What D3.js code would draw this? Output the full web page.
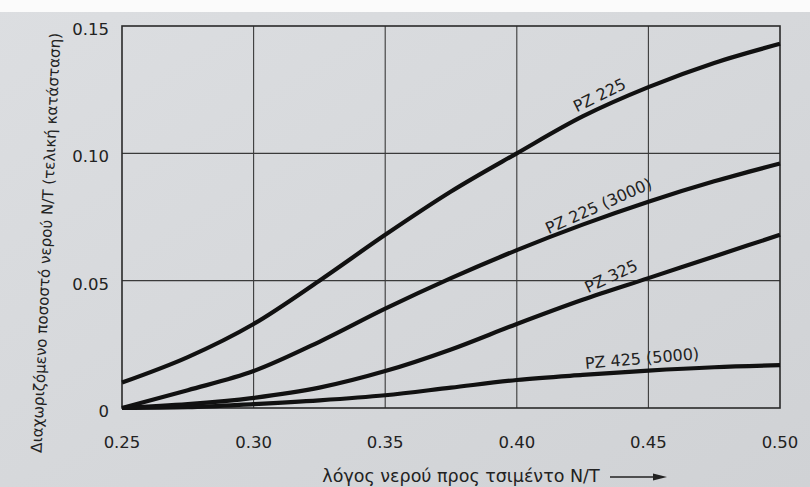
<!DOCTYPE html>
<html>
<head>
<meta charset="utf-8">
<script src="https://cdn.jsdelivr.net/npm/d3@7"></script>
<style>
  html, body { margin: 0; padding: 0; background: #d8dadd; }
  svg { display: block; }
  text { font-family: "DejaVu Sans", "Liberation Sans", sans-serif; fill: #222; }
</style>
</head>
<body>
<svg id="chart" width="810" height="487"></svg>
<script>
// Water/cement ratio (x) and bleeding water fraction N/T (y) per cement type
const waterCementRatio = [0.25, 0.275, 0.30, 0.325, 0.35, 0.375, 0.40, 0.425, 0.45, 0.475, 0.50];
const pz225      = [0.010, 0.020, 0.033, 0.050, 0.068, 0.085, 0.100, 0.1145, 0.126, 0.1355, 0.143];
const pz225_3000 = [0.000, 0.007, 0.0145, 0.026, 0.039, 0.051, 0.062, 0.072, 0.081, 0.089, 0.096];
const pz325      = [0.000, 0.0015, 0.004, 0.008, 0.0145, 0.023, 0.033, 0.0425, 0.051, 0.0595, 0.068];
const pz425_5000 = [0.000, 0.0003, 0.0015, 0.003, 0.005, 0.008, 0.011, 0.013, 0.0147, 0.016, 0.0168];
const seriesNames = ["PZ 225", "PZ 225 (3000)", "PZ 325", "PZ 425 (5000)"];

const xTicks = [0.25, 0.30, 0.35, 0.40, 0.45, 0.50];
const xTickLabels = ["0.25", "0.30", "0.35", "0.40", "0.45", "0.50"];
const yTicks = [0, 0.05, 0.10, 0.15];
const yTickLabels = ["0", "0.05", "0.10", "0.15"];

const yTitle = "Διαχωριζόμενο ποσοστό νερού N/T (τελική κατάσταση)";
const xTitle = "λόγος νερού προς τσιμέντο N/T";

// curve label placement: position along x, text angle, distance above the curve
const labelStyle = [
  { at: 0.4335, angle: -26, gap: 7 },
  { at: 0.433,  angle: -24, gap: 7 },
  { at: 0.438,  angle: -25, gap: 8 },
  { at: 0.448,  angle: -5,  gap: 7 }
];

const svg = d3.select("#chart");
const W = 810, H = 487;

// paper background
const defs = svg.append("defs");
const grad = defs.append("linearGradient").attr("id", "paper")
  .attr("x1", 0).attr("y1", 0).attr("x2", 1).attr("y2", 1);
grad.append("stop").attr("offset", 0).attr("stop-color", "#dcdee1");
grad.append("stop").attr("offset", 1).attr("stop-color", "#d0d2d5");
svg.append("rect").attr("width", W).attr("height", H).attr("fill", "url(#paper)");
svg.append("rect").attr("width", W).attr("height", 12).attr("fill", "#fbfbfb");

const x = d3.scaleLinear().domain([0.25, 0.50]).range([122, 780]);
const y = d3.scaleLinear().domain([0, 0.15]).range([408, 26]);

// grid
const grid = svg.append("g").attr("stroke", "#3a3a3a").attr("stroke-width", 1.1);
grid.selectAll("line.v").data(xTicks.slice(1, -1)).join("line")
  .attr("x1", d => x(d)).attr("x2", d => x(d))
  .attr("y1", y(0.15)).attr("y2", y(0));
grid.selectAll("line.h").data(yTicks.slice(1, -1)).join("line")
  .attr("class", "h")
  .attr("x1", x(0.25)).attr("x2", x(0.50))
  .attr("y1", d => y(d)).attr("y2", d => y(d));
svg.append("rect")
  .attr("x", x(0.25)).attr("y", y(0.15))
  .attr("width", x(0.50) - x(0.25)).attr("height", y(0) - y(0.15))
  .attr("fill", "none").attr("stroke", "#2a2a2a").attr("stroke-width", 1.6);

// tick labels
svg.append("g").selectAll("text").data(xTicks).join("text")
  .attr("x", d => x(d)).attr("y", y(0) + 40)
  .attr("text-anchor", "middle").attr("font-size", 16.5)
  .text((d, i) => xTickLabels[i]);
svg.append("g").selectAll("text").data(yTicks).join("text")
  .attr("x", x(0.25) - 13).attr("y", d => y(d) + 9)
  .attr("text-anchor", "end").attr("font-size", 16.5)
  .text((d, i) => yTickLabels[i]);

// curves
const allSeries = [pz225, pz225_3000, pz325, pz425_5000];
const line = d3.line()
  .x((d, i) => x(waterCementRatio[i]))
  .y(d => y(d))
  .curve(d3.curveMonotoneX);
svg.append("g").selectAll("path").data(allSeries).join("path")
  .attr("d", line)
  .attr("fill", "none").attr("stroke", "#111").attr("stroke-width", 4.2)
  .attr("stroke-linecap", "butt");

// curve labels
allSeries.forEach((vals, i) => {
  const s = labelStyle[i];
  const along = d3.scaleLinear().domain(waterCementRatio).range(vals);
  const px = x(s.at), py = y(along(s.at));
  const a = s.angle * Math.PI / 180;
  const tx = px + Math.sin(a) * s.gap, ty = py - Math.cos(a) * s.gap;
  svg.append("text")
    .attr("transform", `translate(${tx},${ty}) rotate(${s.angle})`)
    .attr("text-anchor", "middle").attr("font-size", 16)
    .text(seriesNames[i]);
});

// axis titles
svg.append("text")
  .attr("transform", "translate(51,243) rotate(-87.4)")
  .attr("text-anchor", "middle").attr("font-size", 15.1)
  .text(yTitle);
svg.append("text")
  .attr("x", 461).attr("y", 482)
  .attr("text-anchor", "middle").attr("font-size", 17.5)
  .text(xTitle);
svg.append("line").attr("x1", 610).attr("x2", 655).attr("y1", 477).attr("y2", 477)
  .attr("stroke", "#222").attr("stroke-width", 1.4);
svg.append("path").attr("d", "M653,473.5 L667,477 L653,480.5 Z").attr("fill", "#222");
</script>
</body>
</html>
